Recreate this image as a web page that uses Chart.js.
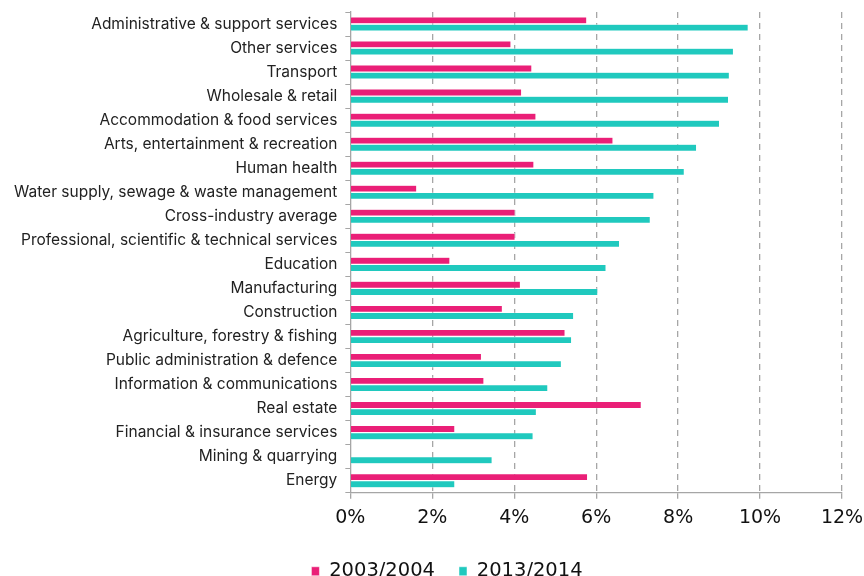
<!DOCTYPE html>
<html>
<head>
<meta charset="utf-8">
<script src="https://cdn.jsdelivr.net/npm/chart.js@4"></script>
<style>
  html, body { margin: 0; padding: 0; background: #fff; }
  #wrap { width: 864px; height: 576px; }
</style>
</head>
<body>
<div id="wrap"><canvas id="sectorChart"></canvas></div>
<script>
const sectors = [
  'Administrative & support services',
  'Other services',
  'Transport',
  'Wholesale & retail',
  'Accommodation & food services',
  'Arts, entertainment & recreation',
  'Human health',
  'Water supply, sewage & waste management',
  'Cross-industry average',
  'Professional, scientific & technical services',
  'Education',
  'Manufacturing',
  'Construction',
  'Agriculture, forestry & fishing',
  'Public administration & defence',
  'Information & communications',
  'Real estate',
  'Financial & insurance services',
  'Mining & quarrying',
  'Energy'
];

// percentages
const rate2003 = [5.77, 3.92, 4.43, 4.18, 4.53, 6.41, 4.48, 1.62, 4.02, 4.02,
                  2.43, 4.15, 3.71, 5.24, 3.20, 3.26, 7.10, 2.55, 0, 5.79];
const rate2013 = [9.71, 9.35, 9.25, 9.23, 9.01, 8.45, 8.15, 7.41, 7.32, 6.57,
                  6.24, 6.04, 5.45, 5.40, 5.15, 4.82, 4.54, 4.46, 3.46, 2.55];

const seriesLabels = ['2003/2004', '2013/2014'];

const pink = '#ea1f77';
const teal = '#20c9be';
const axisGrey = '#a6a6a6';
const wideFont = '"DejaVu Sans", sans-serif';

Chart.defaults.font.family = 'Inter, Roboto, "Noto Sans", sans-serif';
Chart.defaults.color = '#222';

// legend sits a little right of centre, under the plot area
const legendNudge = {
  id: 'legendNudge',
  afterLayout(chart) {
    if (chart.legend) chart.legend.left += 24;
  }
};

const ctx = document.getElementById('sectorChart').getContext('2d');

new Chart(ctx, {
  type: 'bar',
  data: {
    labels: sectors,
    datasets: [
      {
        label: seriesLabels[0],
        data: rate2003,
        backgroundColor: pink,
        borderColor: '#fff',
        borderWidth: 0.5,
        categoryPercentage: 0.6,
        barPercentage: 0.95
      },
      {
        label: seriesLabels[1],
        data: rate2013,
        backgroundColor: teal,
        borderColor: '#fff',
        borderWidth: 0.5,
        categoryPercentage: 0.6,
        barPercentage: 0.95
      }
    ]
  },
  plugins: [legendNudge],
  options: {
    indexAxis: 'y',
    responsive: true,
    maintainAspectRatio: false,
    animation: false,
    layout: {
      padding: { top: 12, right: 0, left: 6, bottom: -15 }
    },
    plugins: {
      tooltip: { enabled: false },
      legend: {
        position: 'bottom',
        labels: {
          font: { size: 19.5, family: wideFont },
          boxWidth: 8,
          boxHeight: 9,
          padding: 24,
          color: '#111'
        }
      }
    },
    scales: {
      x: {
        min: 0,
        max: 12,
        ticks: {
          stepSize: 2,
          font: { size: 19, family: wideFont },
          color: '#111',
          padding: 8,
          callback: (v) => v + '%'
        },
        // let the last tick label run close to the canvas edge
        afterFit: (scale) => { scale.paddingRight = 22; },
        grid: {
          color: (c) => c.tick && c.tick.value === 0 ? 'rgba(0,0,0,0)' : axisGrey,
          tickColor: axisGrey,
          tickLength: 6,
          tickBorderDash: [],
          lineWidth: 1.3
        },
        border: {
          color: axisGrey,
          width: 1.3,
          dash: [6, 5]
        }
      },
      y: {
        ticks: {
          font: { size: 15.5 },
          color: '#222',
          padding: 8,
          autoSkip: false
        },
        afterFit: (scale) => {
          scale.paddingTop = 0;
          scale.paddingBottom = 0;
        },
        grid: {
          drawOnChartArea: false,
          tickColor: axisGrey,
          tickLength: 5,
          offset: true
        },
        border: {
          color: axisGrey,
          width: 1.3
        }
      }
    }
  }
});
</script>
</body>
</html>
